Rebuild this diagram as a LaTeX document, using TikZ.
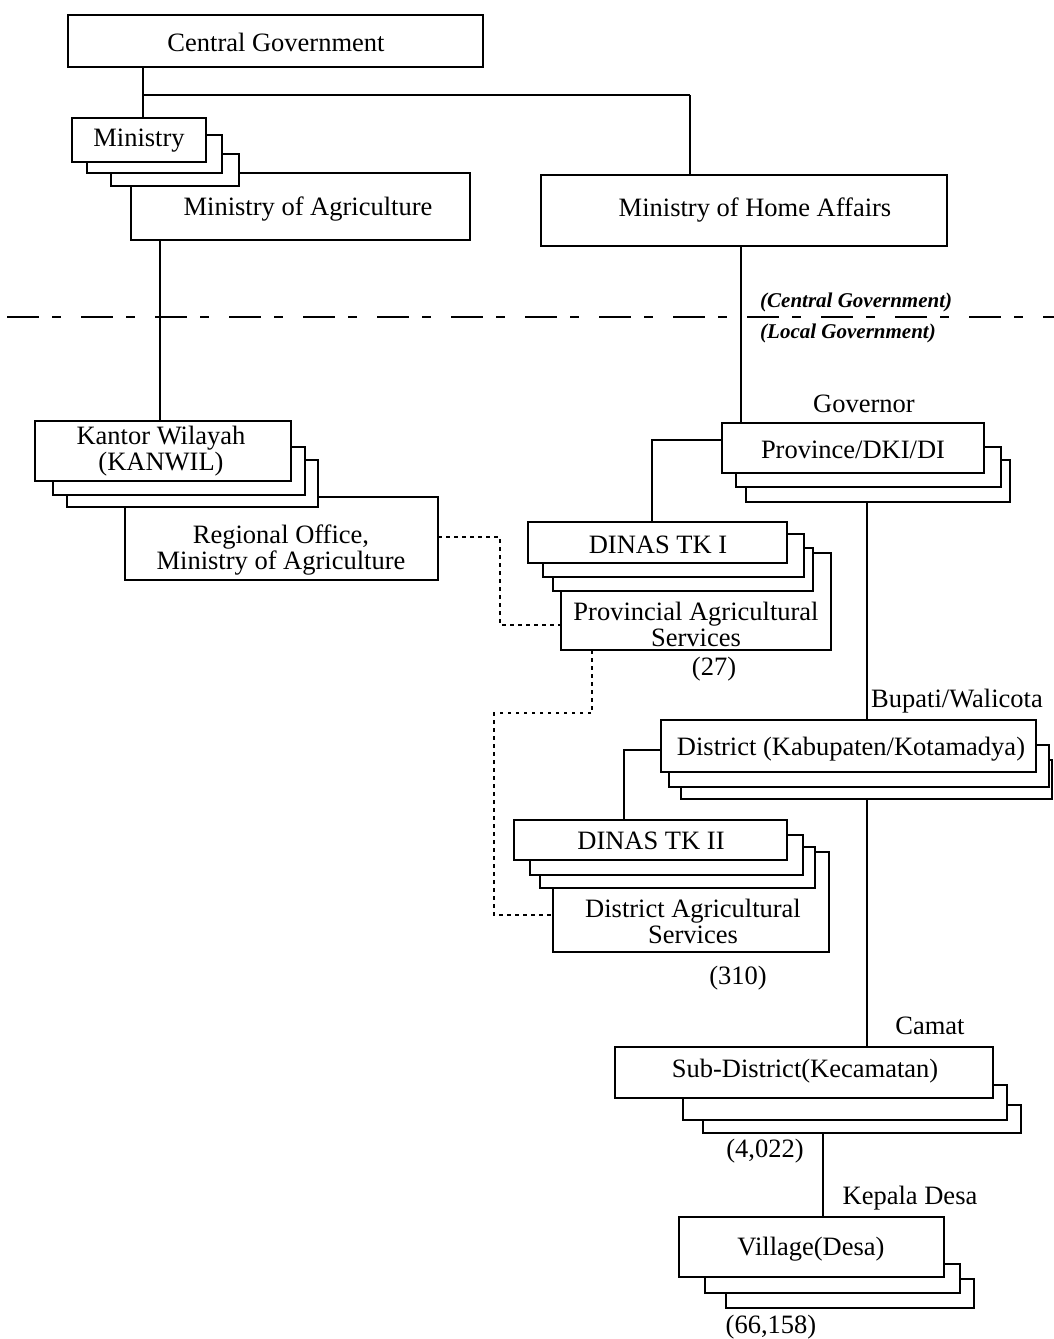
\documentclass[tikz,border=0pt]{standalone}
\usepackage{fontspec}
\setmainfont{Liberation Serif}
\tikzset{
 boxst/.style={draw, line width=1.7pt, fill=white, inner sep=0pt, outer sep=0pt, rectangle},
 txt/.style={inner sep=0pt, font=\fontsize{26.5}{26}\selectfont, align=center},
 ilbl/.style={inner sep=0pt, font=\fontsize{21}{21}\selectfont\bfseries\itshape},
 conn/.style={line width=2pt},
 thinconn/.style={line width=1.2pt},
 dotconn/.style={line width=2pt, dash pattern=on 3.5pt off 4.5pt},
 sepline/.style={line width=2.6pt, dash pattern=on 32pt off 13pt on 9pt off 20pt},
}
\newcommand\boxat[5]{\node[boxst, minimum width={(#4-#2)*1pt}, minimum height={(#5-#3)*1pt}] (#1) at ({(#2+#4)/2},{(#3+#5)/2}) {};}
\begin{document}
\begin{tikzpicture}[x=1pt,y=-1pt]
\fill[white] (0,0) rectangle (1054,1339);
\useasboundingbox (0,0) rectangle (1054,1339);
% separator
\coordinate (sepL) at (7,317);
\coordinate (sepR) at (1054,317);
\draw[sepline] (sepL) -- (sepR);
% boxes
\boxat{cg}{68}{15}{483}{67}
\boxat{moa}{131}{173}{470}{240}
\boxat{min3}{111}{154}{239}{186}
\boxat{min2}{87}{135}{222}{173}
\boxat{min}{72}{118}{206}{162}
\boxat{moha}{541}{175}{947}{246}
\boxat{reg}{125}{497}{438}{580}
\boxat{kan3}{67}{460}{318}{507}
\boxat{kan2}{53}{447}{305}{495}
\boxat{kan}{35}{421}{291}{481}
\boxat{prov3}{746}{460}{1010}{502}
\boxat{prov2}{736}{447}{1001}{487}
\boxat{prov}{722}{423}{984}{473}
\boxat{pas}{561}{553}{831}{650}
\boxat{d1c}{553}{548}{813}{591}
\boxat{d1b}{543}{534}{804}{577}
\boxat{d1}{528}{522}{787}{563}
\boxat{dist3}{681}{760}{1052}{799}
\boxat{dist2}{669}{745}{1049}{787}
\boxat{dist}{661}{720}{1036}{772}
\boxat{das}{553}{852}{829}{952}
\boxat{d2c}{540}{847}{815}{888}
\boxat{d2b}{530}{835}{803}{875}
\boxat{d2}{514}{820}{787}{860}
\boxat{sub3}{703}{1105}{1021}{1133}
\boxat{sub2}{683}{1085}{1007}{1120}
\boxat{sub}{615}{1047}{993}{1098}
\boxat{vil3}{726}{1279}{974}{1308}
\boxat{vil2}{705}{1264}{960}{1293}
\boxat{vil}{679}{1217}{944}{1277}
% connectors
\coordinate (j1) at (143,95);
\coordinate (j2) at (690,95);
\draw[conn] (cg.south -| j1) -- (min.north -| j1);
\draw[thinconn] (j1) -- (j2);
\draw[conn] (j2) -- (moha.north -| j2);
\coordinate (x1) at (160,0);
\draw[conn] (moa.south -| x1) -- (kan.north -| x1);
\coordinate (x2) at (741,0);
\draw[conn] (moha.south -| x2) -- (prov.north -| x2);
\coordinate (p1) at (652,440);
\draw[thinconn] (prov.west |- p1) -- (p1) -- (d1.north -| p1);
\coordinate (x3) at (867,0);
\draw[conn] (prov3.south -| x3) -- (dist.north -| x3);
\coordinate (p2) at (624,750);
\draw[thinconn] (dist.west |- p2) -- (p2) -- (d2.north -| p2);
\draw[conn] (dist3.south -| x3) -- (sub.north -| x3);
\coordinate (x4) at (823,0);
\draw[conn] (sub3.south -| x4) -- (vil.north -| x4);
% dotted
\coordinate (k1) at (500,537);
\coordinate (k2) at (500,625);
\draw[dotconn] (reg.east |- k1) -- (k1) -- (k2) -- (pas.west |- k2);
\coordinate (k3) at (592,713);
\coordinate (k4) at (494,713);
\coordinate (k5) at (494,915);
\draw[dotconn] (pas.south -| k3) -- (k3) -- (k4) -- (k5) -- (das.west |- k5);
% texts
\node[txt] (cg-t) at (276,42) {Central Government};
\node[txt] (min-t) at (139,141) {Ministry};
\node[txt] (moa-t) at (308,209) {Ministry of Agriculture};
\node[txt] (moha-t) at (755,210) {Ministry of Home Affairs};
\node[ilbl, anchor=west] (cgl) at (760,302) {(Central Government)};
\node[ilbl, anchor=west] (lgl) at (760,333) {(Local Government)};
\node[txt] (kan-t) at (161,451) {Kantor Wilayah\\(KANWIL)};
\node[txt] (reg-t) at (281,550) {Regional Office,\\Ministry of Agriculture};
\node[txt] (gov) at (864,404) {Governor};
\node[txt] (prov-t) at (853,450) {Province/DKI/DI};
\node[txt] (d1-t) at (658,545) {DINAS TK I};
\node[txt] (pas-t) at (696,624) {Provincial Agricultural\\Services};
\node[txt] (n27) at (714,669) {(27)};
\node[txt, anchor=west] (bup) at (871,701) {Bupati/Walicota};
\node[txt] (dist-t) at (851,749) {District (Kabupaten/Kotamadya)};
\node[txt] (d2-t) at (651,841) {DINAS TK II};
\node[txt] (das-t) at (693,921) {District Agricultural\\Services};
\node[txt] (n310) at (738,978) {(310)};
\node[txt] (camat) at (930,1026) {Camat};
\node[txt] (sub-t) at (805,1071) {Sub-District(Kecamatan)};
\node[txt] (n4022) at (765,1151) {(4,022)};
\node[txt] (kep) at (910,1198) {Kepala Desa};
\node[txt] (vil-t) at (811,1249) {Village(Desa)};
\node[txt] (n66) at (771,1327) {(66,158)};
\end{tikzpicture}
\end{document}
